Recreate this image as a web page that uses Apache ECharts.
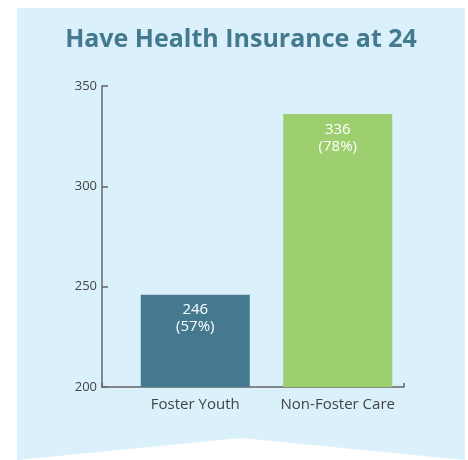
<!DOCTYPE html>
<html>
<head>
<meta charset="utf-8">
<script src="https://cdn.jsdelivr.net/npm/echarts@6/dist/echarts.min.js"></script>
<style>
  html, body { margin: 0; padding: 0; background: #fff; }
  #chart { width: 468px; height: 460px; }
</style>
</head>
<body>
<div id="chart"></div>
<script>
// data
const categories = ["Foster Youth", "Non-Foster Care"];
const counts = [246, 336];
const percents = ["57%", "78%"];
const barColors = ["#44798f", "#9dcf6e"];
const yTicks = [200, 250, 300, 350];

const fontFamily = '"Open Sans", "Noto Sans", sans-serif';
const axisColor = "#666";

const chart = echarts.init(document.getElementById("chart"));

const option = {
  backgroundColor: "#fff",
  animation: false,
  graphic: [
    {
      type: "polygon",
      z: -10,
      shape: {
        points: [[17, 8], [465, 8], [465, 460], [241, 438], [17, 460]],
      },
      style: { fill: "#daf0fb" },
    },
    {
      type: "text",
      x: 241,
      y: 27,
      style: {
        text: "Have Health Insurance at 24",
        align: "center",
        verticalAlign: "top",
        fontFamily: fontFamily,
        fontWeight: "bold",
        fontSize: 25,
        fill: "#44798f",
      },
    },
  ],
  grid: [
    // axes frame
    { left: 102, top: 86, width: 302, height: 301 },
    // bars
    { left: 124, top: 86, width: 285, height: 301 },
  ],
  xAxis: [
    {
      gridIndex: 0,
      type: "category",
      data: [""],
      axisLine: { lineStyle: { color: axisColor, width: 1.5 } },
      axisTick: { show: true, inside: true, length: 4, lineStyle: { color: axisColor, width: 1.5 } },
      axisLabel: { show: false },
    },
    {
      gridIndex: 1,
      type: "category",
      data: categories,
      axisLine: { show: false },
      axisTick: { show: false },
      axisLabel: {
        interval: 0,
        hideOverlap: false,
        margin: 10,
        fontFamily: fontFamily,
        fontSize: 15,
        color: "#444",
      },
    },
  ],
  yAxis: [
    {
      gridIndex: 0,
      type: "value",
      min: yTicks[0],
      max: yTicks[yTicks.length - 1],
      interval: yTicks[1] - yTicks[0],
      axisLine: { show: true, lineStyle: { color: axisColor, width: 1.5 } },
      axisTick: { show: true, inside: true, length: 6, lineStyle: { color: axisColor, width: 1.5 } },
      splitLine: { show: false },
      axisLabel: {
        margin: 5,
        fontFamily: fontFamily,
        fontSize: 13,
        color: "#444",
      },
    },
    {
      gridIndex: 1,
      type: "value",
      min: yTicks[0],
      max: yTicks[yTicks.length - 1],
      show: false,
    },
  ],
  series: [
    {
      type: "bar",
      xAxisIndex: 1,
      yAxisIndex: 1,
      barWidth: 109,
      data: counts.map((v, i) => ({
        value: v,
        itemStyle: { color: barColors[i] },
      })),
      label: {
        show: true,
        position: "insideTop",
        distance: 7,
        color: "#fff",
        fontFamily: fontFamily,
        fontSize: 15,
        lineHeight: 17,
        formatter: (p) => p.value + "\n(" + percents[p.dataIndex] + ")",
      },
    },
  ],
};

chart.setOption(option);
</script>
</body>
</html>
